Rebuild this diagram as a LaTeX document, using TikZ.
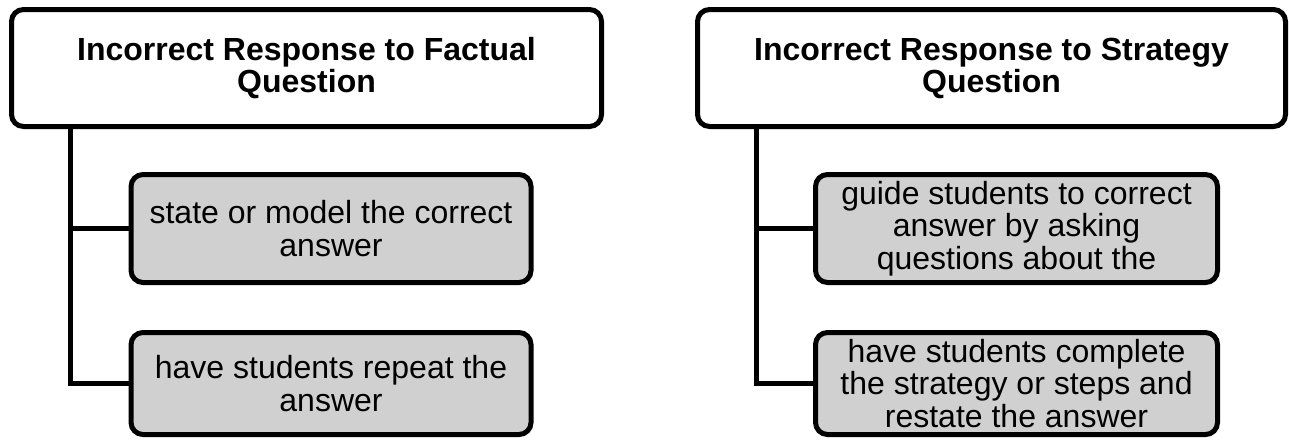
\documentclass[tikz,border=0pt]{standalone}
\usepackage{fontspec}
\setmainfont{Liberation Sans}
\begin{document}
\begin{tikzpicture}[x=1pt,y=-1pt,
  box/.style={draw=black,line width=5pt,rounded corners=12pt,align=center,inner sep=0pt},
  topbox/.style={box,fill=white,minimum width=590pt,minimum height=117pt,
    font=\fontsize{32}{32}\selectfont\bfseries},
  subbox/.style={box,fill=boxgray,minimum width=400pt,
    font=\fontsize{32}{32.5}\selectfont},
  link/.style={draw=black,line width=5pt}]
\definecolor{boxgray}{RGB}{208,208,208}
\useasboundingbox (0,0) rectangle (1289,439);
% left column
\node[topbox] (ltop) at (306.5,68) {Incorrect Response to Factual\\Question};
\node[subbox,minimum height=108pt] (lc1) at (331,228.5) {state or model the correct\\answer};
\node[subbox,minimum height=102pt] (lc2) at (331,383.5) {have students repeat the\\answer};
\coordinate (lv) at (70,200);
\draw[link] (lv |- ltop.south) |- (lc2.west);
\draw[link] (lv |- lc1.west) -- (lc1.west);
% right column
\node[topbox,minimum width=588pt] (rtop) at (991.5,68) {Incorrect Response to Strategy\\Question};
\node[subbox,minimum height=108pt,minimum width=402pt] (rc1) at (1016.5,228.5) {guide students to correct\\answer by asking\\questions about the};
\node[subbox,minimum height=102pt,minimum width=402pt] (rc2) at (1016.5,383.5) {have students complete\\the strategy or steps and\\restate the answer};
\coordinate (rv) at (756,200);
\draw[link] (rv |- rtop.south) |- (rc2.west);
\draw[link] (rv |- rc1.west) -- (rc1.west);
\end{tikzpicture}
\end{document}
